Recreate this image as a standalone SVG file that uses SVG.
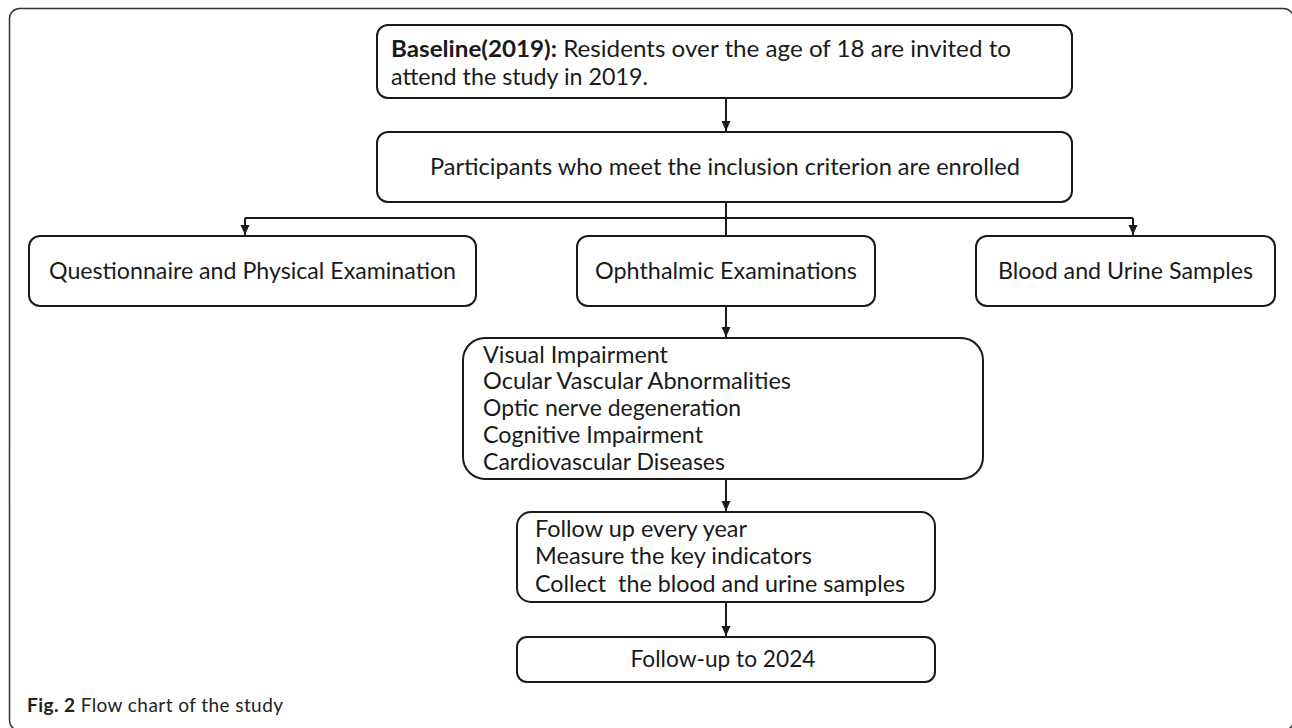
<svg xmlns="http://www.w3.org/2000/svg" width="1292" height="728" viewBox="0 0 1292 728">
<style>
.frame{fill:none;stroke:#333;stroke-width:1.5}
.box{fill:#fff;stroke:#1a1a1a;stroke-width:2}
.t{font-family:Lato,"Open Sans","Liberation Sans",sans-serif;font-size:22.5px;fill:#1a1a1a}
.c{text-anchor:middle}
.b{font-weight:bold}
.cap{font-family:Lato,"Open Sans","Liberation Sans",sans-serif;font-size:19px;fill:#222}
.ln{fill:none;stroke:#1a1a1a;stroke-width:2}
</style>
<defs>
<marker id="ah" markerUnits="userSpaceOnUse" markerWidth="10" markerHeight="10" viewBox="0 0 10 10" refX="10" refY="5" orient="auto">
<path d="M0,0.5 L10,5 L0,9.5 Z" fill="#1a1a1a"/>
</marker>
</defs>
<rect width="1292" height="728" fill="#fff"/>
<rect class="frame" x="9.5" y="8.5" width="1284" height="722" rx="10"/>

<g id="connectors">
<line class="ln" x1="726" y1="98" x2="726" y2="131" marker-end="url(#ah)"/>
<line class="ln" x1="726" y1="202" x2="726" y2="236"/>
<line class="ln" x1="245" y1="218" x2="1133" y2="218"/>
<line class="ln" x1="245" y1="218" x2="245" y2="235" marker-end="url(#ah)"/>
<line class="ln" x1="1133" y1="218" x2="1133" y2="235" marker-end="url(#ah)"/>
<line class="ln" x1="726" y1="306" x2="726" y2="337" marker-end="url(#ah)"/>
<line class="ln" x1="726" y1="479" x2="726" y2="511" marker-end="url(#ah)"/>
<line class="ln" x1="726" y1="602" x2="726" y2="636" marker-end="url(#ah)"/>
</g>

<g id="baseline">
<rect class="box" x="377" y="25" width="695" height="73" rx="11"/>
<text class="t" x="391" y="57" textLength="620" lengthAdjust="spacingAndGlyphs"><tspan class="b">Baseline(2019):</tspan> Residents over the age of 18 are invited to</text>
<text class="t" x="391" y="85" textLength="257" lengthAdjust="spacingAndGlyphs">attend the study in 2019.</text>
</g>

<g id="participants">
<rect class="box" x="377" y="132" width="695" height="70" rx="11"/>
<text class="t c" x="725" y="175" textLength="590" lengthAdjust="spacingAndGlyphs">Participants who meet the inclusion criterion are enrolled</text>
</g>

<g id="questionnaire">
<rect class="box" x="29" y="236" width="447" height="70" rx="11"/>
<text class="t c" x="252.5" y="279" textLength="407" lengthAdjust="spacingAndGlyphs">Questionnaire and Physical Examination</text>
</g>

<g id="ophthalmic">
<rect class="box" x="577" y="236" width="298" height="70" rx="11"/>
<text class="t c" x="726" y="279" textLength="262" lengthAdjust="spacingAndGlyphs">Ophthalmic Examinations</text>
</g>

<g id="blood">
<rect class="box" x="976" y="236" width="299" height="70" rx="11"/>
<text class="t c" x="1125.5" y="279" textLength="255" lengthAdjust="spacingAndGlyphs">Blood and Urine Samples</text>
</g>

<g id="outcomes">
<rect class="box" x="463" y="338" width="520" height="141" rx="22"/>
<text class="t" x="483" y="363" textLength="185" lengthAdjust="spacingAndGlyphs">Visual Impairment</text>
<text class="t" x="483" y="389" textLength="308" lengthAdjust="spacingAndGlyphs">Ocular Vascular Abnormalities</text>
<text class="t" x="483" y="416" textLength="258" lengthAdjust="spacingAndGlyphs">Optic nerve degeneration</text>
<text class="t" x="483" y="443" textLength="220" lengthAdjust="spacingAndGlyphs">Cognitive Impairment</text>
<text class="t" x="483" y="470" textLength="242" lengthAdjust="spacingAndGlyphs">Cardiovascular Diseases</text>
</g>

<g id="followup">
<rect class="box" x="517" y="512" width="418" height="90" rx="14"/>
<text class="t" x="535" y="537" textLength="212" lengthAdjust="spacingAndGlyphs">Follow up every year</text>
<text class="t" x="535" y="564" textLength="277" lengthAdjust="spacingAndGlyphs">Measure the key indicators</text>
<text class="t" x="535" y="592" textLength="370" lengthAdjust="spacingAndGlyphs" xml:space="preserve">Collect  the blood and urine samples</text>
</g>

<g id="final">
<rect class="box" x="517" y="637" width="418" height="45" rx="10"/>
<text class="t c" x="723" y="667" textLength="185" lengthAdjust="spacingAndGlyphs">Follow-up to 2024</text>
</g>

<text class="cap" x="27" y="712" textLength="256"><tspan font-weight="bold">Fig. 2</tspan> Flow chart of the study</text>
</svg>
